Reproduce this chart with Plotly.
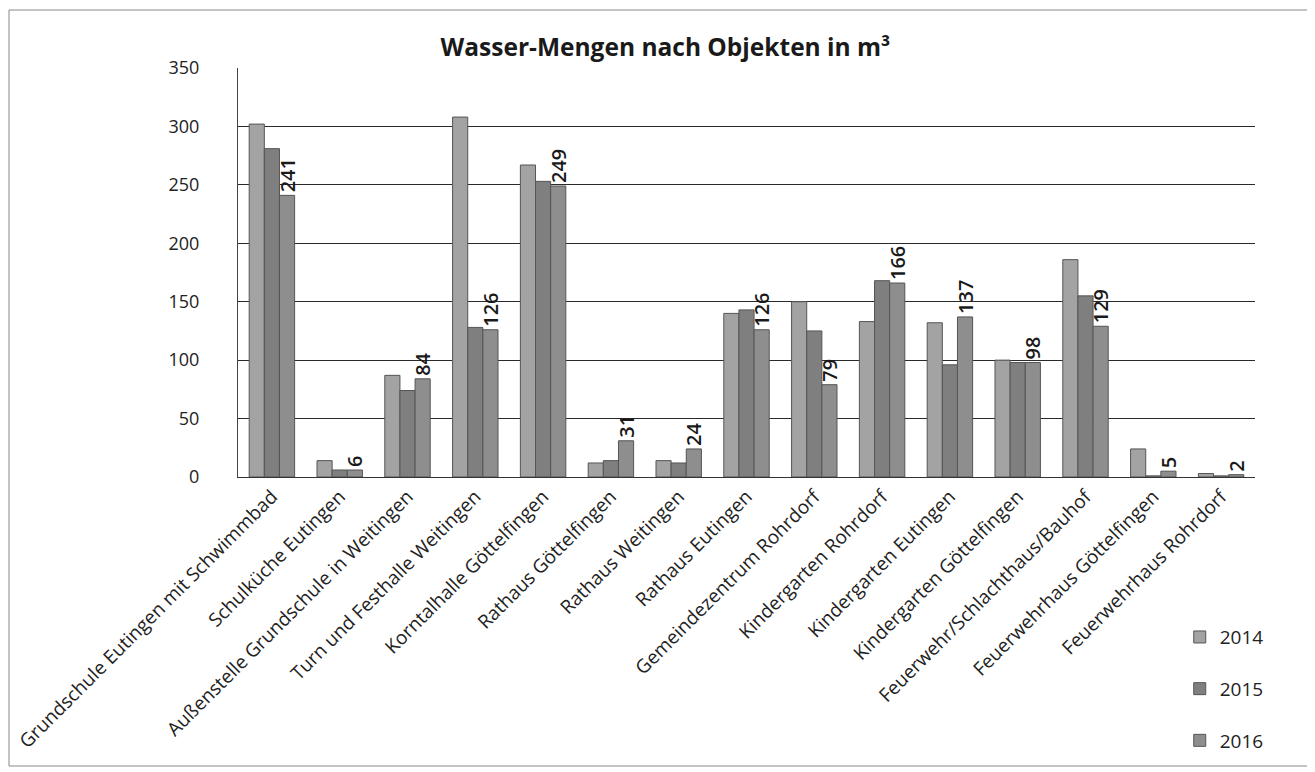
import plotly.graph_objects as go

categories = [
    "Grundschule Eutingen mit Schwimmbad",
    "Schulküche Eutingen",
    "Außenstelle Grundschule in Weitingen",
    "Turn und Festhalle Weitingen",
    "Korntalhalle Göttelfingen",
    "Rathaus Göttelfingen",
    "Rathaus Weitingen",
    "Rathaus Eutingen",
    "Gemeindezentrum Rohrdorf",
    "Kindergarten Rohrdorf",
    "Kindergarten Eutingen",
    "Kindergarten Göttelfingen",
    "Feuerwehr/Schlachthaus/Bauhof",
    "Feuerwehrhaus Göttelfingen",
    "Feuerwehrhaus Rohrdorf",
]
values_2014 = [302, 14, 87, 308, 267, 12, 14, 140, 150, 133, 132, 100, 186, 24, 3]
values_2015 = [281, 6, 74, 128, 253, 14, 12, 143, 125, 168, 96, 98, 155, 1, 1]
values_2016 = [241, 6, 84, 126, 249, 31, 24, 126, 79, 166, 137, 98, 129, 5, 2]
series_names = ["2014", "2015", "2016"]
colors = ["#a3a3a3", "#7f7f7f", "#8e8e8e"]

FONT = "Open Sans"
W, H = 1315, 772
ML, MR, MT, MB = 230, 68, 60, 303
PW, PH = W - ML - MR, H - MT - MB

fig = go.Figure()
for name, vals, col in zip(series_names, [values_2014, values_2015, values_2016], colors):
    kw = {}
    if name == "2016":
        kw = dict(text=[str(v) for v in vals], textposition="outside", textangle=-90,
                  textfont=dict(family=FONT, size=20, color="#1a1a1a", weight=600),
                  cliponaxis=False)
    fig.add_trace(go.Bar(
        x=categories, y=vals, name=name, legendgroup=name,
        marker=dict(color=col, line=dict(color="#555555", width=1)),
        **kw))

fig.update_layout(
    width=W, height=H,
    paper_bgcolor="white", plot_bgcolor="white",
    margin=dict(l=ML, r=MR, t=MT, b=MB, autoexpand=False),
    barmode="group", bargap=0.33, bargroupgap=0,
    uniformtext=dict(minsize=20, mode="show"),
    font=dict(family=FONT, color="#1a1a1a"),
    title=dict(text="<b>Wasser-Mengen nach Objekten in m³</b>", x=0.5, xref="container",
               y=1 - 39 / H, yanchor="middle", font=dict(family=FONT, size=24.5, color="#1a1a1a")),
    legend=dict(x=0.926, xanchor="left", y=-0.345, yanchor="top",
                font=dict(family=FONT, size=19, color="#222"),
                traceorder="grouped", tracegroupgap=24, itemwidth=30,
                bgcolor="rgba(0,0,0,0)"),
    showlegend=True,
)
fig.update_yaxes(range=[0, 350], dtick=50, showgrid=True, gridcolor="#2a2a2a", gridwidth=1.2,
                 showline=True, linecolor="#444444", linewidth=1,
                 ticks="", ticklabelstandoff=34, automargin=False,
                 tickfont=dict(family=FONT, size=18, color="#222"), zeroline=False)
fig.update_xaxes(tickangle=-45, showline=True, linecolor="#333333", linewidth=1.2,
                 automargin=False,
                 tickfont=dict(family=FONT, size=19, color="#222"))

fig.add_shape(type="rect", xref="paper", yref="paper",
              x0=(1 - ML) / PW, x1=(1300 - ML) / PW,
              y0=(MT + PH - 758) / PH, y1=(MT + PH - 2) / PH,
              line=dict(color="#888888", width=1), fillcolor="rgba(0,0,0,0)", layer="below")

fig.write_html("out.html")
